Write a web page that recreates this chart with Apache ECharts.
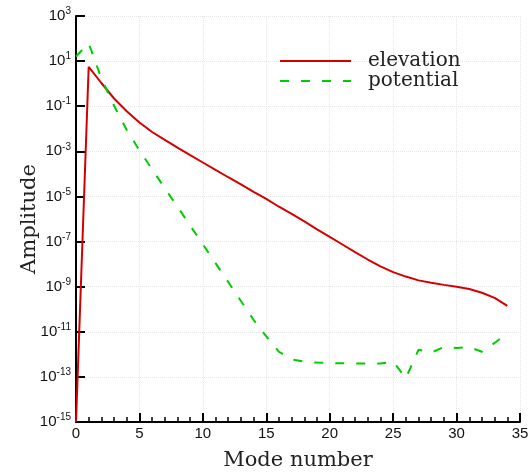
<!DOCTYPE html>
<html>
<head>
<meta charset="utf-8">
<script src="https://cdn.jsdelivr.net/npm/echarts@6/dist/echarts.min.js"></script>
<style>
  html, body { margin: 0; padding: 0; background: #fff; }
  #chart { width: 528px; height: 474px; }
</style>
</head>
<body>
<div id="chart"></div>
<script>
const modes = [0, 1, 2, 3, 4, 5, 6, 7, 8, 9, 10, 11, 12, 13, 14, 15, 16, 17,
  18, 19, 20, 21, 22, 23, 24, 25, 26, 27, 28, 29, 30, 31, 32, 33, 34];

const elevation = [1e-15, 5.6, 1.07, 2.2e-1, 6.0e-2, 1.9e-2, 7.2e-3, 3.2e-3, 1.45e-3,
  6.8e-4, 3.2e-4, 1.5e-4, 7.1e-5, 3.4e-5, 1.6e-5, 7.8e-6, 3.5e-6, 1.7e-6, 7.8e-7,
  3.5e-7, 1.6e-7, 7.4e-8, 3.4e-8, 1.6e-8, 7.9e-9, 4.4e-9, 2.8e-9, 1.9e-9, 1.5e-9,
  1.2e-9, 1.0e-9, 7.9e-10, 5.4e-10, 3.2e-10, 1.4e-10];

const potential = [16, 62, 1.7, 1.05e-1, 8.9e-3, 1.1e-3, 1.6e-4, 2.3e-5, 3.5e-6,
  5.1e-7, 7.6e-8, 1.1e-8, 1.6e-9, 2.3e-10, 3.4e-11, 6.2e-12, 1.3e-12, 6.0e-13, 4.7e-13,
  4.3e-13, 4.1e-13, 4.0e-13, 3.9e-13, 3.9e-13, 3.9e-13, 4.8e-13, 8.7e-14, 1.6e-12, 1.2e-12,
  2.1e-12, 1.9e-12, 2.1e-12, 1.3e-12, 3.2e-12, 8.5e-12];

const seriesNames = ['elevation', 'potential'];
const xTicks = [0, 5, 10, 15, 20, 25, 30, 35];
const yExponents = [-15, -13, -11, -9, -7, -5, -3, -1, 1, 3];

const pairs = (ys) => modes.map((m, i) => [m, ys[i]]);

const chart = echarts.init(document.getElementById('chart'));
const serif = 'DejaVu Serif';
const sans = 'Liberation Sans, Arial, sans-serif';

chart.setOption({
  animation: false,
  grid: { left: 76, right: 8, top: 16, bottom: 52, outerBoundsMode: 'none', containLabel: false },
  legend: {
    left: 279, top: 51, padding: 0,
    orient: 'vertical',
    itemWidth: 71, itemHeight: 10, itemGap: 0,
    itemStyle: { color: 'transparent', borderWidth: 0 },
    textStyle: { fontFamily: serif, fontSize: 20, lineHeight: 19, color: '#222', padding: [0, 0, 0, 12] },
    data: seriesNames
  },
  xAxis: {
    type: 'value',
    min: xTicks[0], max: xTicks[xTicks.length - 1], interval: 5,
    name: 'Mode number', nameLocation: 'middle', nameGap: 28, nameMoveOverlap: false,
    nameTextStyle: { fontFamily: serif, fontSize: 21, color: '#222' },
    axisLine: { lineStyle: { color: '#000', width: 2 } },
    axisTick: { inside: true, length: 9, lineStyle: { color: '#000', width: 2 } },
    minorTick: { show: true, splitNumber: 5, length: 5, lineStyle: { color: '#000', width: 1.5 } },
    axisLabel: { fontFamily: sans, fontSize: 15, color: '#111', margin: 4 },
    splitLine: { show: true, lineStyle: { color: '#e6e6e6', type: 'dotted', width: 1 } }
  },
  yAxis: {
    type: 'log', logBase: 10,
    min: Math.pow(10, yExponents[0]), max: Math.pow(10, yExponents[yExponents.length - 1]),
    interval: 2,
    name: 'Amplitude', nameLocation: 'middle', nameGap: 36, nameMoveOverlap: false,
    nameTextStyle: { fontFamily: serif, fontSize: 21, color: '#222' },
    axisLine: { lineStyle: { color: '#000', width: 2 } },
    axisTick: { inside: true, length: 9, lineStyle: { color: '#000', width: 2 } },
    axisLabel: {
      margin: 5,
      formatter: (v) => '{b|10}{s|' + Math.round(Math.log10(v)) + '}',
      rich: {
        b: { fontFamily: sans, fontSize: 15, color: '#111' },
        s: { fontFamily: sans, fontSize: 10, color: '#111', verticalAlign: 'bottom', padding: [0, 0, 9, 0] }
      }
    },
    splitLine: { show: true, lineStyle: { color: '#e6e6e6', type: 'dotted', width: 1 } }
  },
  series: [
    {
      name: seriesNames[0], type: 'line', data: pairs(elevation),
      symbol: 'none', smooth: false,
      lineStyle: { color: '#d40000', width: 2 }, itemStyle: { color: '#d40000' }
    },
    {
      name: seriesNames[1], type: 'line', data: pairs(potential),
      symbol: 'none', smooth: false,
      lineStyle: { color: '#00cc00', width: 2, type: [9, 12] }, itemStyle: { color: '#00cc00' }
    }
  ]
});
</script>
</body>
</html>
